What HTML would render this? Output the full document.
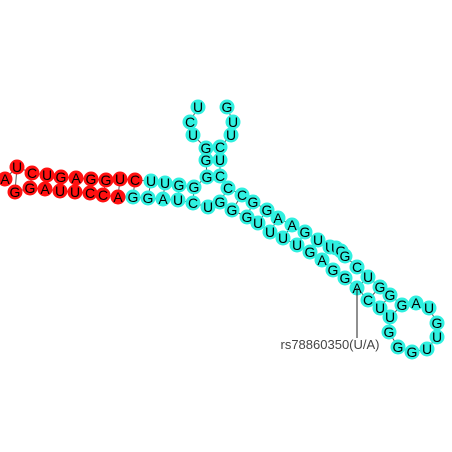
<!DOCTYPE html>
<html><head><meta charset="utf-8"><style>
html,body{margin:0;padding:0;background:#fff;}
svg{display:block;}
text{font-family:"Liberation Sans",sans-serif;}
</style></head><body>
<svg id="chart" width="452" height="452" viewBox="0 0 452 452" xmlns="http://www.w3.org/2000/svg">
<g id="lines"></g><g id="nodes"></g>
<line x1="357" y1="288" x2="357" y2="338" stroke="#222" stroke-width="1"/>
<text x="330" y="349" font-size="13" fill="#444" text-anchor="middle">rs78860350(U/A)</text>
</svg>
<script>
// nucleotides in backbone order: letter, x, y, region (r = red, c = cyan)
const letters = ["A","U","C","U","G","A","G","G","U","C","U","U","G","G","G","G","G","U","C","U","G","U","U","C","U","C","C","C","G","G","A","A","G","U","U","U","G","G","C","U","G","G","G","A","U","G","U","U","G","G","G","U","U","C","A","G","G","A","G","U","U","U","U","G","G","G","U","C","U","A","G","G","A","C","C","U","U","A","G","G"];
const xs = [5,17,32,47,61,76,91,106,120,135,151,165,179,194,207,206,206,193,190,198,227,233,231,220,220,220,228,242,253,267,278,292,305,318,330,336,341,345,357,368,380,390,402,416,429,437,437,427,412,398,389,390,380,368,357,345,333,322,310,297,283,270,258,247,232,220,208,193,178,163,148,133,118,103,90,75,60,45,30,15];
const ys = [179,167,173,175,177,178,179,180,179,180,181,183,185,187,177,160,148,135,122,107,107,122,135,147,160,176,188,195,202,210,218,225,232,240,247,248,251,256,267,277,287,295,305,303,308,323,337,349,352,347,332,317,308,300,288,278,270,260,252,245,238,232,223,217,210,202,207,203,200,199,198,197,197,195,193,192,191,189,188,192];
const regions = ["r","r","r","r","r","r","r","r","r","r","c","c","c","c","c","c","c","c","c","c","c","c","c","c","c","c","c","c","c","c","c","c","c","c","c","c","c","c","c","c","c","c","c","c","c","c","c","c","c","c","c","c","c","c","c","c","c","c","c","c","c","c","c","c","c","c","c","c","c","c","c","c","r","r","r","r","r","r","r","r"];
// base pairs as index pairs
const pairsA = [1,2,3,4,5,6,7,8,9,10,11,12,13,14,15,16,26,27,28,29,30,31,32,33,39,40,41,42];
const pairsB = [79,78,77,76,75,74,73,72,71,70,69,68,67,25,24,23,65,64,63,62,61,60,59,58,54,53,52,51];
// backbone gaps (no link from index i to i+1)
const gaps = [19];
const NS="http://www.w3.org/2000/svg";
const L=document.getElementById('lines'), N=document.getElementById('nodes');
const col={r:"#ff1010",c:"#30f0e0"};
for(let i=0;i<letters.length-1;i++){
  if(gaps.indexOf(i)>=0) continue;
  const l=document.createElementNS(NS,'line');
  
  
  l.setAttribute('x1',xs[i]);l.setAttribute('y1',ys[i]);l.setAttribute('x2',xs[i+1]);l.setAttribute('y2',ys[i+1]);
  l.setAttribute('stroke','#555');l.setAttribute('stroke-width','1');L.appendChild(l);
}
for(let k=0;k<pairsA.length;k++){
  const a=pairsA[k],b=pairsB[k];
  const l=document.createElementNS(NS,'line');
  
  
  l.setAttribute('x1',xs[a]);l.setAttribute('y1',ys[a]);l.setAttribute('x2',xs[b]);l.setAttribute('y2',ys[b]);
  l.setAttribute('stroke','#555');l.setAttribute('stroke-width','1');L.appendChild(l);
}
for(let i=0;i<letters.length;i++){
  const g=document.createElementNS(NS,'g');
  
  
  const c=document.createElementNS(NS,'circle');
  
  
  c.setAttribute('cx',xs[i]);c.setAttribute('cy',ys[i]);c.setAttribute('r',7.5);
  c.setAttribute('fill',col[regions[i]]);g.appendChild(c);
  const t=document.createElementNS(NS,'text');
  
  
  t.setAttribute('x',xs[i]);t.setAttribute('y',ys[i]+5);t.setAttribute('font-size','14');
  t.setAttribute('text-anchor','middle');t.setAttribute('fill','#000');
  t.textContent=letters[i];g.appendChild(t);
  N.appendChild(g);
}
</script>
</body></html>
